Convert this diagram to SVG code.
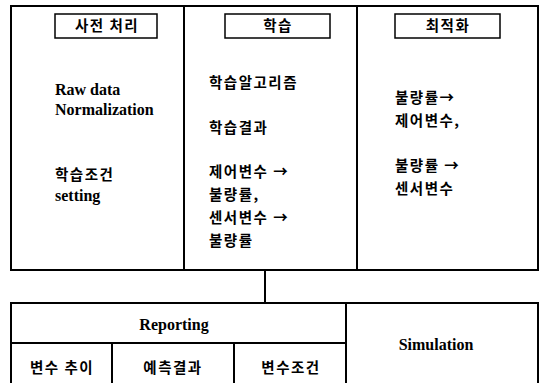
<svg xmlns="http://www.w3.org/2000/svg" width="546" height="383" viewBox="0 0 546 383">
<style>
.frame{fill:none;stroke:#000;stroke-width:2}
.lab{fill:#fff;stroke:#000;stroke-width:1.5}
.line{stroke:#000;stroke-width:2;fill:none}
text{font-family:"Liberation Serif","Noto Sans CJK KR",serif;font-weight:bold;font-size:15px;fill:#000}
.ko{font-family:"Noto Sans CJK KR","Noto Sans",sans-serif;font-size:14.5px;letter-spacing:1.5px}
.en{font-size:16px}
.c{text-anchor:middle}
</style>
<rect width="546" height="383" fill="#fff"/>
<g id="top-frame">
<rect class="frame" x="11" y="6" width="527" height="264"/>
</g>
<g id="preprocess">
<rect class="lab" x="55" y="14" width="102" height="24"/>
<text class="ko c" x="107" y="31">사전 처리</text>
<text class="en" x="55" y="95">Raw data</text>
<text class="en" x="55" y="115">Normalization</text>
<text class="ko" x="55" y="180">학습조건</text>
<text class="en" x="55" y="201">setting</text>
</g>
<g id="learning">
<line class="line" x1="184" y1="6" x2="184" y2="270"/>
<rect class="lab" x="225" y="14" width="105" height="24"/>
<text class="ko c" x="278" y="31">학습</text>
<text class="ko" x="209" y="88">학습알고리즘</text>
<text class="ko" x="209" y="133">학습결과</text>
<text class="ko" x="209" y="177">제어변수 →</text>
<text class="ko" x="209" y="200">불량률,</text>
<text class="ko" x="209" y="223">센서변수 →</text>
<text class="ko" x="209" y="246">불량률</text>
</g>
<g id="optimization">
<line class="line" x1="357" y1="6" x2="357" y2="270"/>
<rect class="lab" x="395" y="14" width="105" height="24"/>
<text class="ko c" x="448" y="31">최적화</text>
<text class="ko" x="395" y="103">불량률→</text>
<text class="ko" x="395" y="126">제어변수,</text>
<text class="ko" x="395" y="171">불량률 →</text>
<text class="ko" x="395" y="194">센서변수</text>
</g>
<g id="connectors">
<line class="line" x1="265" y1="270" x2="265" y2="303"/>
</g>
<g id="bottom-frame">
<polyline class="line" points="11,390 11,303 538,303 538,390"/>
</g>
<g id="reporting">
<line class="line" x1="11" y1="343" x2="346" y2="343"/>
<text class="en c" x="174" y="330">Reporting</text>
</g>
<g id="var-trend">
<text class="ko c" x="62" y="373">변수 추이</text>
</g>
<g id="pred-result">
<line class="line" x1="112" y1="343" x2="112" y2="390"/>
<text class="ko c" x="173" y="373">예측결과</text>
</g>
<g id="var-cond">
<line class="line" x1="234" y1="343" x2="234" y2="390"/>
<text class="ko c" x="291" y="373">변수조건</text>
</g>
<g id="simulation">
<line class="line" x1="346" y1="303" x2="346" y2="390"/>
<text class="en c" x="436" y="350">Simulation</text>
</g>
</svg>
